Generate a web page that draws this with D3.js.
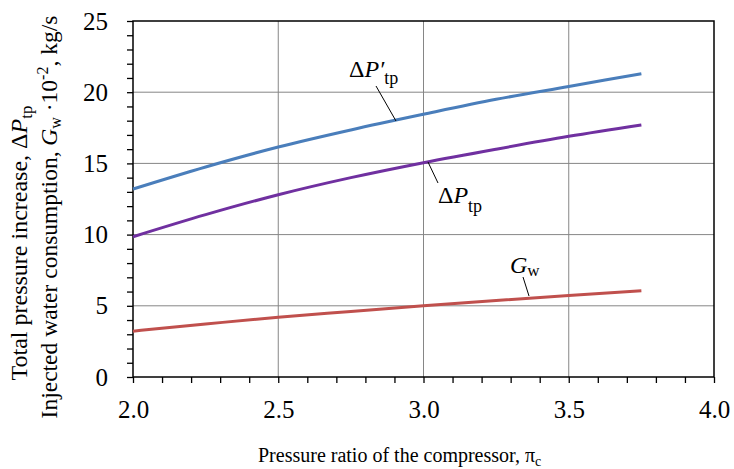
<!DOCTYPE html>
<html><head><meta charset="utf-8">
<script src="https://cdn.jsdelivr.net/npm/d3@7"></script>
<style>body{margin:0;background:#fff}svg text, svg tspan{font-family:"Liberation Serif" !important;fill:#000}</style>
</head><body>
<svg id="c" width="734" height="469"></svg>
<script>
const xVals = [2.0, 2.25, 2.5, 2.75, 3.0, 3.25, 3.5, 3.75];
const dPprime = [13.2, 14.75, 16.15, 17.35, 18.45, 19.5, 20.4, 21.3];
const dP = [9.85, 11.4, 12.8, 14.0, 15.05, 16.0, 16.9, 17.7];
const Gw = [3.22, 3.72, 4.2, 4.6, 5.0, 5.37, 5.72, 6.05];
const xTicks = [2.0, 2.5, 3.0, 3.5, 4.0];
const yTicks = [0, 5, 10, 15, 20, 25];

const svg = d3.select("#c");
const L = 133, R = 714, T = 21, B = 377;
const x = d3.scaleLinear().domain([2, 4]).range([L, R]);
const y = d3.scaleLinear().domain([0, 25]).range([B, T]);

// grid
svg.append("g").selectAll("line").data(xTicks.slice(1, -1)).join("line")
  .attr("x1", d => x(d)).attr("x2", d => x(d)).attr("y1", T).attr("y2", B)
  .attr("stroke", "#868686").attr("stroke-width", 1);
svg.append("g").selectAll("line").data(yTicks.slice(1, -1)).join("line")
  .attr("y1", d => y(d)).attr("y2", d => y(d)).attr("x1", L).attr("x2", R)
  .attr("stroke", "#868686").attr("stroke-width", 1);

// frame
svg.append("rect").attr("x", L).attr("y", T).attr("width", R - L).attr("height", B - T)
  .attr("fill", "none").attr("stroke", "#000").attr("stroke-width", 1.5);

// axes
const xAxis = d3.axisBottom(x).tickValues(d3.range(20, 41).map(d => d / 10)).tickSize(6).tickFormat("");
const gx = svg.append("g").attr("transform", `translate(0,${B})`).call(xAxis);
gx.select(".domain").remove();
gx.selectAll("line").attr("stroke", "#000").attr("stroke-width", 1.3);
const gxl = svg.append("g").attr("transform", `translate(0,${B})`)
  .call(d3.axisBottom(x).tickValues(xTicks).tickSize(0).tickPadding(23).tickFormat(d3.format(".1f")));
gxl.select(".domain").remove();
gxl.attr("font-family", null).attr("font-size", 25);
gxl.selectAll("text").attr("fill", "#000");

const yAxis = d3.axisLeft(y).tickValues(d3.range(0, 26)).tickSize(6).tickFormat("");
const gy = svg.append("g").attr("transform", `translate(${L},0)`).call(yAxis);
gy.select(".domain").remove();
gy.selectAll("line").attr("stroke", "#000").attr("stroke-width", 1.3);
const gyl = svg.append("g").attr("transform", `translate(${L},0)`)
  .call(d3.axisLeft(y).tickValues(yTicks).tickSize(0).tickPadding(25).tickFormat(d3.format("d")));
gyl.select(".domain").remove();
gyl.attr("font-family", null).attr("font-size", 25);
gyl.selectAll("text").attr("fill", "#000");

// lines
const line = d3.line().x((d, i) => x(xVals[i])).y(d => y(d)).curve(d3.curveMonotoneX);
[[dPprime, "#4a7ebb"], [dP, "#7030a0"], [Gw, "#c0504d"]].forEach(([s, c]) => {
  svg.append("path").datum(s).attr("d", line).attr("fill", "none")
    .attr("stroke", c).attr("stroke-width", 3);
});

// annotations
function leader(x1, y1, x2, y2) {
  svg.append("line").attr("x1", x1).attr("y1", y1).attr("x2", x2).attr("y2", y2)
    .attr("stroke", "#000").attr("stroke-width", 1);
}
leader(376, 86, 396, 121);
leader(428, 162, 438, 183);
leader(523, 277, 529, 296);

let t = svg.append("text").attr("x", 349).attr("y", 77).attr("font-size", 24);
t.append("tspan").text("Δ");
t.append("tspan").attr("font-style", "italic").text("P′");
t.append("tspan").attr("font-size", 18).attr("dy", 7).text("tp");

t = svg.append("text").attr("x", 438).attr("y", 203).attr("font-size", 24);
t.append("tspan").text("Δ");
t.append("tspan").attr("font-style", "italic").text("P");
t.append("tspan").attr("font-size", 18).attr("dy", 9).text("tp");

t = svg.append("text").attr("x", 510).attr("y", 273).attr("font-size", 24);
t.append("tspan").attr("font-style", "italic").text("G");
t.append("tspan").attr("font-size", 17).attr("dy", 3).text("w");

// x title
t = svg.append("text").attr("x", 258).attr("y", 462).attr("font-size", 20);
t.append("tspan").text("Pressure ratio of the compressor,  π");
t.append("tspan").attr("font-size", 14).attr("dy", 4).text("c");

// y title
t = svg.append("text").attr("transform", "translate(27,243) rotate(-90)")
  .attr("font-size", 24).attr("text-anchor", "middle");
t.append("tspan").text("Total pressure increase, Δ");
t.append("tspan").attr("font-style", "italic").text("P");
t.append("tspan").attr("font-size", 17).attr("dy", 5).text("tp");

t = svg.append("text").attr("transform", "translate(57,217) rotate(-90)")
  .attr("font-size", 23.5).attr("text-anchor", "middle");
t.append("tspan").text("Injected water consumption, ");
t.append("tspan").attr("font-style", "italic").text("G");
t.append("tspan").attr("font-size", 16).attr("dy", 4).text("w");
t.append("tspan").attr("dy", -4).text(" ·10");
t.append("tspan").attr("font-size", 16).attr("dy", -9).text("-2");
t.append("tspan").attr("dy", 9).text(", kg/s");
</script>
</body></html>
